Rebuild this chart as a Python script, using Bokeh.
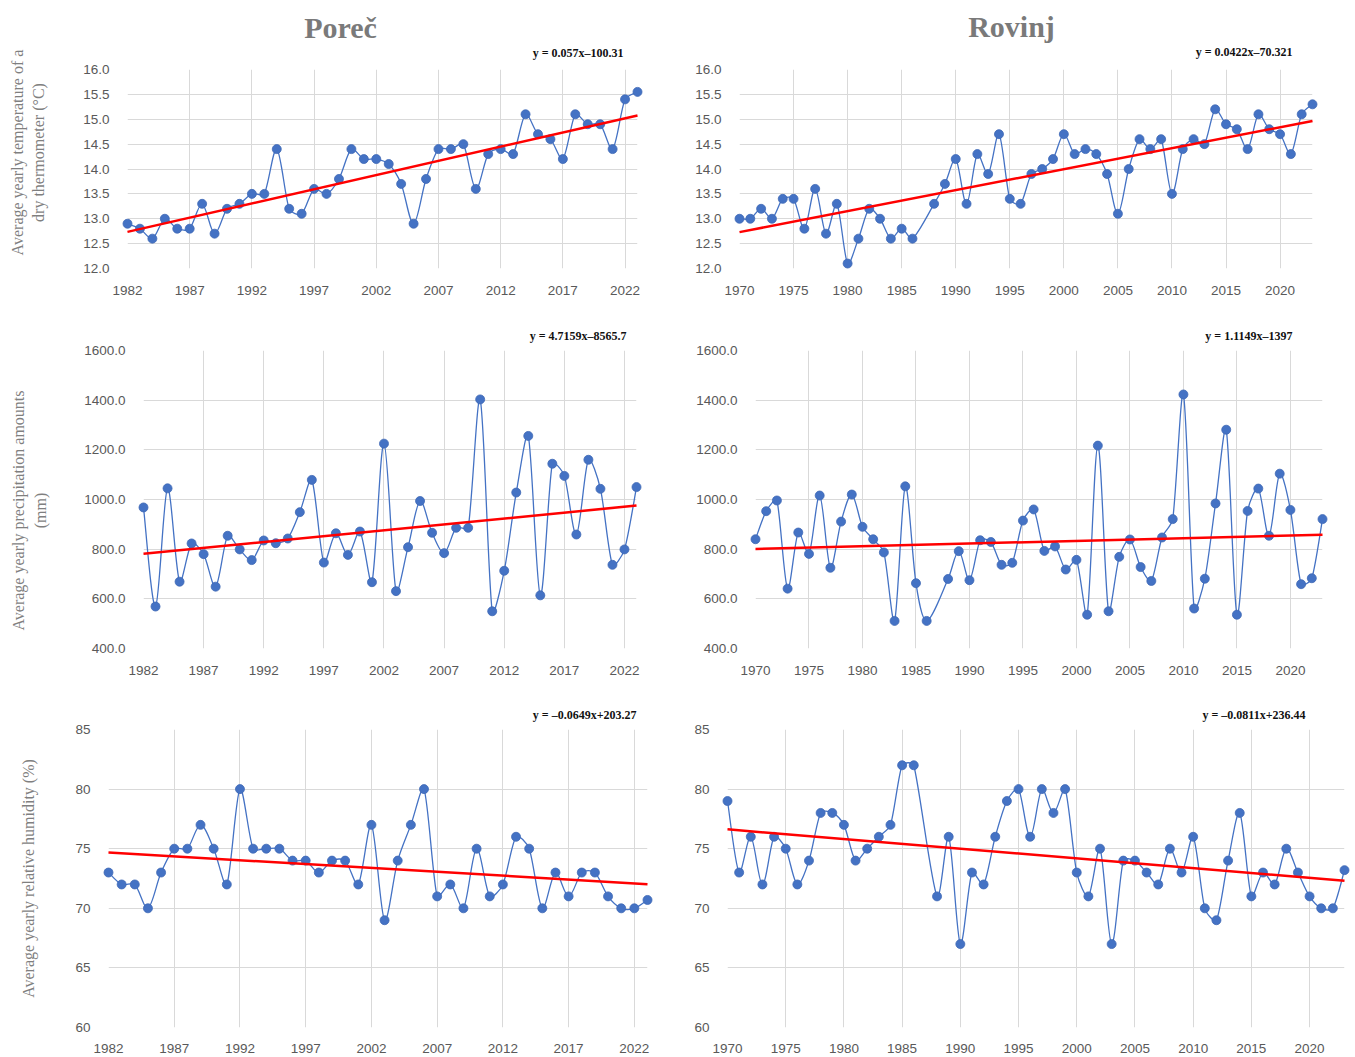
import numpy as np
from bokeh.plotting import figure
from bokeh.layouts import row, column
from bokeh.models import FixedTicker, NumeralTickFormatter, Range1d
from bokeh.core.properties import value
from bokeh.embed import file_html
from bokeh.resources import INLINE

# ---------------- data ----------------
porec_years = list(range(1982, 2024))
porec_temp = [12.9, 12.8, 12.6, 13.0, 12.8, 12.8, 13.3, 12.7, 13.2, 13.3,
              13.5, 13.5, 14.4, 13.2, 13.1, 13.6, 13.5, 13.8, 14.4, 14.2,
              14.2, 14.1, 13.7, 12.9, 13.8, 14.4, 14.4, 14.5, 13.6, 14.3,
              14.4, 14.3, 15.1, 14.7, 14.6, 14.2, 15.1, 14.9, 14.9, 14.4,
              15.4, 15.55]
porec_precip = [968, 569, 1045, 669, 823, 780, 649, 854, 799, 756,
                835, 824, 843, 949, 1079, 746, 864, 777, 871, 667,
                1225, 631, 808, 994, 866, 784, 886, 886, 1403, 550,
                713, 1028, 1256, 614, 1144, 1095, 859, 1160, 1043, 737,
                799, 1050]
porec_hum = [73, 72, 72, 70, 73, 75, 75, 77, 75, 72,
             80, 75, 75, 75, 74, 74, 73, 74, 74, 72,
             77, 69, 74, 77, 80, 71, 72, 70, 75, 71,
             72, 76, 75, 70, 73, 71, 73, 73, 71, 70,
             70, 70.7]

rovinj_years = [y for y in range(1970, 2024) if y != 1987]
rovinj_temp = [13.0, 13.0, 13.2, 13.0, 13.4, 13.4, 12.8, 13.6, 12.7, 13.3,
               12.1, 12.6, 13.2, 13.0, 12.6, 12.8, 12.6,
               13.3, 13.7,
               14.2, 13.3, 14.3, 13.9, 14.7, 13.4, 13.3, 13.9, 14.0, 14.2,
               14.7, 14.3, 14.4, 14.3, 13.9, 13.1, 14.0, 14.6, 14.4, 14.6,
               13.5, 14.4, 14.6, 14.5, 15.2, 14.9, 14.8, 14.4, 15.1, 14.8,
               14.7, 14.3, 15.1, 15.3]
rovinj_precip = [840, 953, 996, 641, 867, 781, 1016, 725, 911, 1020,
                 890, 840, 787, 511, 1053, 663, 511,
                 680, 792,
                 675, 836, 829, 737, 745, 915, 960, 793, 811, 718,
                 757, 536, 1217, 550, 769, 839, 728, 672, 847, 921,
                 1423, 561, 681, 984, 1281, 536, 954, 1044, 854, 1104,
                 958, 659, 683, 921]
rovinj_hum = [79, 73, 76, 72, 76, 75, 72, 74, 78, 78,
              77, 74, 75, 76, 77, 82, 82,
              71, 76,
              67, 73, 72, 76, 79, 80, 76, 80, 78, 80,
              73, 71, 75, 67, 74, 74, 73, 72, 75, 73,
              76, 70, 69, 74, 78, 71, 73, 72, 75, 73,
              71, 70, 70, 73.2]

porec_xticks = [1982, 1987, 1992, 1997, 2002, 2007, 2012, 2017, 2022]
rovinj_xticks = [1970, 1975, 1980, 1985, 1990, 1995, 2000, 2005, 2010, 2015, 2020]
temp_yticks = [12.0, 12.5, 13.0, 13.5, 14.0, 14.5, 15.0, 15.5, 16.0]
precip_yticks = [400, 600, 800, 1000, 1200, 1400, 1600]
hum_yticks = [60, 65, 70, 75, 80, 85]

porec_eqs = ["y = 0.057x–100.31", "y = 4.7159x–8565.7", "y = –0.0649x+203.27"]
rovinj_eqs = ["y = 0.0422x–70.321", "y = 1.1149x–1397", "y = –0.0811x+236.44"]
titles = ["Poreč", "Rovinj"]
ylabels_temp = ["Average yearly temperature of a", "dry thermometer (°C)"]
ylabels_precip = ["Average yearly precipitation amounts", "(mm)"]
ylabels_hum = ["Average yearly relative humidity (%)"]

BLUE = "#4472C4"
RED = "#FF0000"
GRID = "#d9d9d9"
TICKC = "#595959"
SANS = "Liberation Sans"
SERIF = "Liberation Serif"


def smooth_controls(xs, ys, sx, sy):
    """Bezier control points for a smoothed line (chord-length weighted
    Catmull-Rom); sx, sy = pixels per data unit, used for segment lengths."""
    xs = np.asarray(xs, float)
    ys = np.asarray(ys, float)
    n = len(xs)
    xp = np.concatenate([[xs[0]], xs, [xs[-1]]])
    yp = np.concatenate([[ys[0]], ys, [ys[-1]]])
    seg = np.hypot(np.diff(xp) * sx, np.diff(yp) * sy)
    k = 1.0 / 6.0
    cx0 = np.empty(n - 1); cy0 = np.empty(n - 1)
    cx1 = np.empty(n - 1); cy1 = np.empty(n - 1)
    for i in range(n - 1):
        a = i + 1
        b = i + 2
        d_in_a, d_out_a = seg[a - 1], seg[a]
        wa = 2 * d_out_a / (d_in_a + d_out_a) if (d_in_a + d_out_a) > 0 else 1
        d_in_b, d_out_b = seg[b - 1], seg[b]
        wb = 2 * d_in_b / (d_in_b + d_out_b) if (d_in_b + d_out_b) > 0 else 1
        wa = min(wa, 1.0)
        wb = min(wb, 1.0)
        cx0[i] = xp[a] + (xp[a + 1] - xp[a - 1]) * k * wa
        cy0[i] = yp[a] + (yp[a + 1] - yp[a - 1]) * k * wa
        cx1[i] = xp[b] - (xp[b + 1] - xp[b - 1]) * k * wb
        cy1[i] = yp[b] - (yp[b + 1] - yp[b - 1]) * k * wb
    return dict(x0=xs[:-1], y0=ys[:-1], x1=xs[1:], y1=ys[1:],
                cx0=cx0, cy0=cy0, cx1=cx1, cy1=cy1)


class Panel:
    def __init__(self, years, vals, yticks, yfmt, xticks, geom, standoff=11):
        W, H, l, r, t, b = geom
        self.fw = W - l - r
        self.fh = H - t - b
        self.x0, self.x1 = years[0], years[-1]
        self.y0, self.y1 = yticks[0], yticks[-1]
        p = figure(width=W, height=H, min_border_left=l, min_border_right=r,
                   min_border_top=t, min_border_bottom=b,
                   x_range=Range1d(self.x0, self.x1),
                   y_range=Range1d(self.y0, self.y1),
                   toolbar_location=None, output_backend="svg", tools="")
        p.outline_line_color = None
        p.background_fill_color = "white"
        p.border_fill_color = "white"
        for ax in (p.xaxis[0], p.yaxis[0]):
            ax.axis_line_color = None
            ax.major_tick_line_color = None
            ax.minor_tick_line_color = None
            ax.major_label_text_font = SANS
            ax.major_label_text_font_size = "13.5px"
            ax.major_label_text_color = TICKC
        p.xaxis[0].ticker = FixedTicker(ticks=xticks)
        p.yaxis[0].ticker = FixedTicker(ticks=yticks)
        p.xaxis[0].formatter = NumeralTickFormatter(format="0")
        p.yaxis[0].formatter = NumeralTickFormatter(format=yfmt)
        p.xaxis[0].major_label_standoff = standoff
        p.yaxis[0].major_label_standoff = 12
        p.xgrid.grid_line_color = GRID
        p.ygrid.grid_line_color = GRID

        pxx = self.fw / (self.x1 - self.x0)
        pxy = self.fh / (self.y1 - self.y0)
        seg = smooth_controls(years, vals, pxx, pxy)
        r1 = p.bezier(line_color=BLUE, line_width=1.3, **seg)
        r2 = p.scatter(years, vals, size=9, fill_color=BLUE,
                       line_color="#3f68b5", line_width=0.8)
        coef = np.polyfit(np.asarray(years, float), np.asarray(vals, float), 1)
        tx = [years[0], years[-1]]
        r3 = p.line(tx, list(np.polyval(coef, tx)), line_color=RED, line_width=2.5)
        for rr in (r1, r2, r3):
            rr.level = "overlay"
        self.p = p

    # position given in pixels relative to frame left / frame bottom
    def _d(self, sx, sy):
        return (self.x0 + sx / self.fw * (self.x1 - self.x0),
                self.y0 + sy / self.fh * (self.y1 - self.y0))

    def text(self, txt, sx, sy, size, style="normal", color="#000000",
             align="center", baseline="middle", angle=0.0):
        x, y = self._d(sx, sy)
        r = self.p.text(x=[x], y=[y], text=[txt], angle=angle,
                        text_font=value(SERIF), text_font_size=value(size),
                        text_font_style=value(style), text_color=color,
                        text_align=value(align), text_baseline=value(baseline))
        r.level = "overlay"

    def eq(self, txt, sx, sy):
        self.text(txt, sx, sy, "12px", "bold", "#111111", "right", "middle")

    def ylabel(self, lines, xs, yc):
        for txt, xx in zip(lines, xs):
            self.text(txt, xx, yc, "16px", "normal", "#7f7f7f", "center",
                      "middle", angle=np.pi / 2)

    def title(self, txt, sx, sy):
        self.text(txt, sx, sy, "30px", "bold", "#7a7a7a", "center", "middle")


# geometry: width, height, left, right, top, bottom borders
tl = Panel(porec_years, porec_temp, temp_yticks, "0.0", porec_xticks,
           (678, 308, 127, 41, 69, 40))
tr = Panel(rovinj_years, rovinj_temp, temp_yticks, "0.0", rovinj_xticks,
           (677, 308, 61, 43, 64, 39))
ml = Panel(porec_years, porec_precip, precip_yticks, "0.0", porec_xticks,
           (678, 380, 143, 42, 42, 40))
mr = Panel(rovinj_years, rovinj_precip, precip_yticks, "0.0", rovinj_xticks,
           (677, 380, 77, 33, 42, 40))
bl = Panel(porec_years, porec_hum, hum_yticks, "0", porec_xticks,
           (678, 369, 108, 31, 41, 30), standoff=10)
br = Panel(rovinj_years, rovinj_hum, hum_yticks, "0", rovinj_xticks,
           (677, 369, 49, 11, 41, 30), standoff=10)

tl.title(titles[0], 213, 241)
tr.title(titles[1], 272, 249)

tl.eq(porec_eqs[0], 496, 216)
tr.eq(rovinj_eqs[0], 553, 223)
ml.eq(porec_eqs[1], 483, 313)
mr.eq(rovinj_eqs[1], 537, 313)
bl.eq(porec_eqs[2], 528, 313)
br.eq(rovinj_eqs[2], 578, 313)

tl.ylabel(ylabels_temp, [-110, -89], 116)
ml.ylabel(ylabels_precip, [-125, -103], 138)
bl.ylabel(ylabels_hum, [-80], 149)

layout = column(row(tl.p, tr.p), row(ml.p, mr.p), row(bl.p, br.p))
open("out.html", "w").write(file_html(layout, INLINE))
